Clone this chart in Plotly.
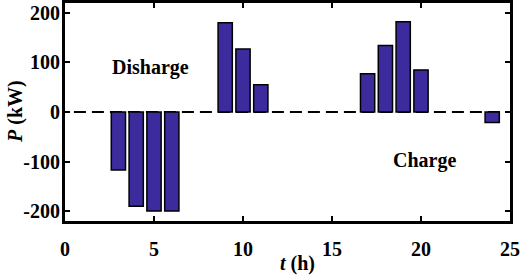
import plotly.graph_objects as go

hours = [3, 4, 5, 6, 9, 10, 11, 17, 18, 19, 20, 24]
power_kw = [-117, -190, -200, -200, 180, 127, 55, 77, 134, 182, 85, -21]
x_ticks = [0, 5, 10, 15, 20, 25]
y_ticks = [-200, -100, 0, 100, 200]
y_tick_text = ["-200", "-100", "0", "100", "200"]

FONT = "Liberation Serif, Times New Roman, serif"
tfont = dict(family=FONT, size=20, color="black", weight="bold")

fig = go.Figure()
fig.add_shape(type="line", xref="x", yref="y", x0=0.5, x1=24.5, y0=0, y1=0,
              line=dict(color="black", width=2, dash="12px,6px"), layer="below")
fig.add_trace(go.Bar(
    x=hours, y=power_kw, width=0.8,
    marker=dict(color="#3b2b9c", line=dict(color="black", width=1.5)),
))

axis_common = dict(
    showline=True, linecolor="black", linewidth=3, mirror="ticks",
    ticks="inside", ticklen=5, tickwidth=2, tickcolor="black",
    showgrid=False, zeroline=False, automargin=False,
    tickfont=tfont,
)

fig.update_layout(
    width=526, height=277,
    margin=dict(l=65, r=16, t=3, b=56),
    plot_bgcolor="white", paper_bgcolor="white",
    showlegend=False,
    xaxis=dict(range=[0, 25], tickvals=x_ticks, ticklabelstandoff=8, **axis_common),
    yaxis=dict(range=[-220, 220], tickvals=y_ticks, ticktext=y_tick_text,
               ticklabelstandoff=-2, **axis_common),
    annotations=[
        dict(x=4.8, y=90, xref="x", yref="y", text="Disharge", showarrow=False, font=tfont),
        dict(x=20.2, y=-97, xref="x", yref="y", text="Charge", showarrow=False, font=tfont),
        dict(x=0.5, y=0, xref="paper", yref="paper", yshift=-42, xshift=10,
             yanchor="middle", text="<i>t</i> (h)", showarrow=False, font=tfont),
        dict(x=0, y=0.5, xref="paper", yref="paper", xshift=-50, xanchor="center",
             text="<i>P</i> (kW)", textangle=-90, showarrow=False, font=tfont),
    ],
)

fig.write_html("out.html", config={"displayModeBar": False},
               post_script="document.body.style.margin='0';document.body.style.overflow='hidden';")
